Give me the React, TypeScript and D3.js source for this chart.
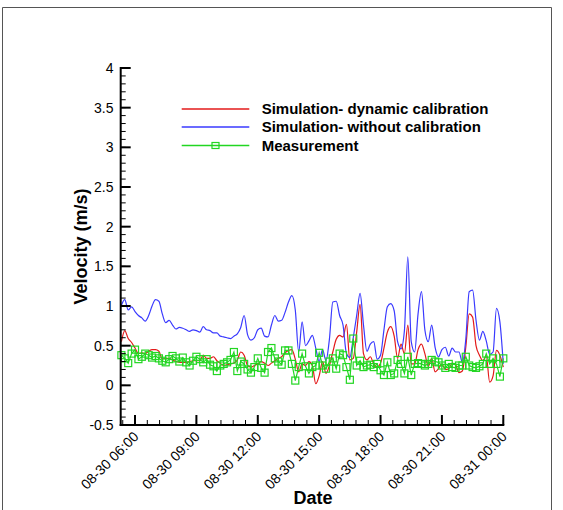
import React from "react";
import * as d3 from "d3";

const W = 563;
const H = 510;
const FONT = "'Liberation Sans', Arial, Helvetica, sans-serif";

// Sampling: every 10 minutes starting 08-30 05:20
const SERIES_START = new Date(2020, 7, 30, 5, 20);
const SERIES_STEP_MIN = 10;

// Simulation with dynamic calibration (m/s)
const dynamicCalibration = [
  0.55, 0.69, 0.59, 0.54, 0.47, 0.4, 0.41, 0.4, 0.43, 0.45,
  0.45, 0.43, 0.33, 0.34, 0.34, 0.32, 0.3, 0.29, 0.29, 0.29,
  0.3, 0.31, 0.31, 0.31, 0.38, 0.34, 0.34, 0.36, 0.31, 0.28,
  0.25, 0.26, 0.27, 0.28, 0.32, 0.42, 0.38, 0.25, 0.23, 0.25,
  0.27, 0.3, 0.28, 0.25, 0.28, 0.31, 0.34, 0.36, 0.41, 0.44,
  0.45, 0.33, 0.17, 0.27, 0.25, 0.3, 0.25, 0.02, 0.12, 0.3,
  0.15, 0.25, 0.42, 0.58, 0.63, 0.61, 0.77, 0.32, 0.34, 0.67,
  1.02, 0.4, 0.32, 0.36, 0.27, 0.23, 0.28, 0.47, 0.67, 0.74,
  0.62, 0.34, 0.52, 0.4, 0.76, 0.27, 0.27, 0.45, 0.52, 0.4,
  0.24, 0.34, 0.17, 0.21, 0.27, 0.2, 0.21, 0.28, 0.26, 0.16,
  0.18, 0.48, 0.9, 0.86, 0.5, 0.38, 0.31, 0.37, 0.04, 0.12,
  0.44, 0.38, 0.23,
];

// Simulation without calibration (m/s)
const withoutCalibration = [
  1.01, 1.08, 0.95, 0.99, 0.93, 0.88, 0.85, 0.81, 0.88, 1.0,
  1.08, 1.06, 0.9, 0.79, 0.82, 0.76, 0.71, 0.73, 0.72, 0.7,
  0.68, 0.7, 0.69, 0.67, 0.74, 0.7, 0.69, 0.66, 0.66, 0.62,
  0.61, 0.6, 0.59, 0.62, 0.65, 0.73, 0.88, 0.64, 0.57, 0.6,
  0.7, 0.72, 0.62, 0.61, 0.76, 0.88, 0.81, 0.82, 0.92, 1.05,
  1.13, 0.95, 0.42, 0.8, 0.5, 0.56, 0.63, 0.47, 0.3, 0.45,
  0.31, 0.58, 1.05, 1.06, 0.88, 0.76, 0.4, 0.35, 0.6, 0.88,
  1.16, 0.76, 0.43, 0.52, 0.55, 0.33, 0.38, 0.7, 0.99, 1.03,
  0.94, 0.55, 0.46, 0.69, 1.62, 0.55, 0.42, 0.9, 1.18, 0.7,
  0.55, 0.76, 0.48, 0.36, 0.45, 0.48, 0.37, 0.47, 0.42, 0.42,
  0.29, 0.58, 1.18, 1.2, 0.82, 0.57, 0.68, 0.56, 0.39, 0.42,
  0.97, 0.8, 0.27,
];

// Measured velocity (m/s)
const measurement = [
  0.38, 0.34, 0.28, 0.4, 0.45, 0.33, 0.36, 0.4, 0.38, 0.35,
  0.37, 0.34, 0.31, 0.29, 0.33, 0.37, 0.34, 0.3, 0.35, 0.29,
  0.25, 0.31, 0.36, 0.33, 0.29, 0.33, 0.26, 0.24, 0.18, 0.25,
  0.27, 0.29, 0.32, 0.42, 0.18, 0.3, 0.27, 0.2, 0.16, 0.23,
  0.34, 0.22, 0.16, 0.42, 0.47, 0.34, 0.3, 0.26, 0.44, 0.44,
  0.27, 0.06, 0.23, 0.4, 0.24, 0.15, 0.23, 0.25, 0.41, 0.25,
  0.21, 0.3, 0.34, 0.21, 0.4, 0.38, 0.23, 0.07, 0.59, 0.25,
  0.31, 0.23, 0.25, 0.26, 0.23, 0.27, 0.19, 0.13, 0.29, 0.13,
  0.15, 0.32, 0.27, 0.15, 0.36, 0.13, 0.27, 0.28, 0.27, 0.25,
  0.27, 0.32, 0.3, 0.29, 0.25, 0.22, 0.27, 0.23, 0.22, 0.25,
  0.25, 0.36, 0.25, 0.23, 0.22, 0.24, 0.27, 0.4, 0.27, 0.34,
  0.27, 0.11, 0.34,
];

const legendLabels = [
  "Simulation- dynamic calibration",
  "Simulation- without calibration",
  "Measurement",
];
const seriesColors = ["#e31a1a", "#3a3aff", "#22d622"];

const yTickValues = [-0.5, 0, 0.5, 1, 1.5, 2, 2.5, 3, 3.5, 4];

const X_DOMAIN: [Date, Date] = [new Date(2020, 7, 30, 5, 18), new Date(2020, 7, 31, 0, 0)];
const Y_DOMAIN: [number, number] = [-0.5, 4];

const plot = { left: 120.7, right: 503.3, top: 68, bottom: 425 };

function timeAt(i: number): Date {
  return d3.timeMinute.offset(SERIES_START, i * SERIES_STEP_MIN);
}

export default function App() {
  const x = d3.scaleTime().domain(X_DOMAIN).range([plot.left, plot.right]);
  const y = d3.scaleLinear().domain(Y_DOMAIN).range([plot.bottom, plot.top]);

  const lineGen = d3
    .line<number>()
    .x((_, i) => x(timeAt(i)))
    .y((d) => y(d))
    .curve(d3.curveMonotoneX);
  const measLine = d3
    .line<number>()
    .x((_, i) => x(timeAt(i)))
    .y((d) => y(d));

  const xMajor = x.ticks(d3.timeHour.every(3)!);
  const first = xMajor[0];
  const xMinor: Date[] = [];
  for (let k = -1; k < 40; k++) {
    const t = d3.timeMinute.offset(first, k * 36);
    if (t >= X_DOMAIN[0] && t <= X_DOMAIN[1]) xMinor.push(t);
  }
  const fmt = d3.timeFormat("%m-%d %H:%M");

  const yMinor = d3.range(-5, 41).map((v) => v / 10);

  const sq = 7;
  const legendY = [109, 127, 145.5];
  const legendX0 = 181.7;
  const legendX1 = 249.3;

  return (
    <svg
      width={W}
      height={H}
      style={{ position: "absolute", left: 0, top: 0, display: "block", background: "#fff" }}
      fontFamily={FONT}
    >
      {/* outer frame */}
      <path d={`M2.5,${H} V7.5 H551.5 V${H}`} fill="none" stroke="#555" strokeWidth={1} />

      {/* data */}
      <path d={lineGen(dynamicCalibration) || ""} fill="none" stroke={seriesColors[0]} strokeWidth={1.2} />
      <path d={lineGen(withoutCalibration) || ""} fill="none" stroke={seriesColors[1]} strokeWidth={1.2} />
      <path d={measLine(measurement) || ""} fill="none" stroke={seriesColors[2]} strokeWidth={1.2} />
      {measurement.map((v, i) => (
        <rect
          key={i}
          x={x(timeAt(i)) - sq / 2}
          y={y(v) - sq / 2}
          width={sq}
          height={sq}
          fill="none"
          stroke={seriesColors[2]}
          strokeWidth={1.2}
        />
      ))}

      {/* y axis */}
      {yMinor.map((v, i) => (
        <line key={"ym" + i} x1={plot.left} x2={plot.left + 5} y1={y(v)} y2={y(v)} stroke="#000" strokeWidth={1} />
      ))}
      {yTickValues.map((v) => (
        <g key={"y" + v}>
          <line x1={plot.left} x2={plot.left + 10} y1={y(v)} y2={y(v)} stroke="#000" strokeWidth={2} />
          <text x={113.5} y={y(v)} dy="0.35em" textAnchor="end" fontSize={14} fill="#000">
            {v}
          </text>
        </g>
      ))}
      <line x1={plot.left} x2={plot.left} y1={plot.top - 1} y2={plot.bottom + 1} stroke="#000" strokeWidth={2} />

      {/* x axis */}
      {xMinor.map((t, i) => (
        <line key={"xm" + i} x1={x(t)} x2={x(t)} y1={plot.bottom} y2={plot.bottom - 5} stroke="#000" strokeWidth={1} />
      ))}
      {xMajor.map((t, i) => (
        <g key={"x" + i}>
          <line x1={x(t)} x2={x(t)} y1={plot.bottom} y2={plot.bottom - 10} stroke="#000" strokeWidth={2} />
          <text
            transform={`translate(${x(t) + 1},${plot.bottom + 9}) rotate(-45)`}
            dy="0.35em"
            textAnchor="end"
            fontSize={14}
            fill="#000"
          >
            {fmt(t)}
          </text>
        </g>
      ))}
      <line x1={plot.left - 1} x2={plot.right + 1} y1={plot.bottom} y2={plot.bottom} stroke="#000" strokeWidth={2} />

      {/* axis titles */}
      <text x={313} y={504} textAnchor="middle" fontSize={18} fontWeight="bold" fill="#000">
        Date
      </text>
      <text
        transform={`translate(87,246.5) rotate(-90)`}
        textAnchor="middle"
        fontSize={18}
        fontWeight="bold"
        fill="#000"
      >
        Velocity (m/s)
      </text>

      {/* legend */}
      {legendLabels.map((lab, i) => (
        <g key={lab}>
          <line x1={legendX0} x2={legendX1} y1={legendY[i]} y2={legendY[i]} stroke={seriesColors[i]} strokeWidth={1.3} />
          {i === 2 && (
            <rect
              x={(legendX0 + legendX1) / 2 - 3.5}
              y={legendY[i] - 3}
              width={7}
              height={6}
              fill="none"
              stroke={seriesColors[i]}
              strokeWidth={1.2}
            />
          )}
          <text x={261.7} y={legendY[i] + 5} fontSize={15} fontWeight="bold" fill="#000">
            {lab}
          </text>
        </g>
      ))}
    </svg>
  );
}
